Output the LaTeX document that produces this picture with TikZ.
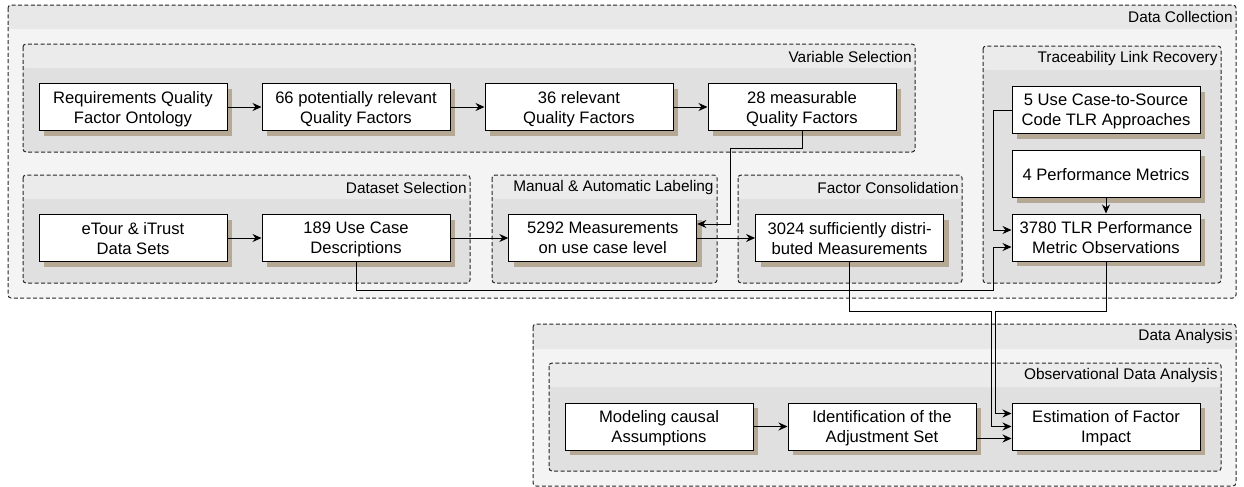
\documentclass[tikz,border=0pt]{standalone}
\usepackage{fontspec}
\setmainfont{Liberation Sans}
\usetikzlibrary{positioning,arrows.meta,shadows}

\definecolor{outerBody}{RGB}{244,244,244}
\definecolor{outerHead}{RGB}{232,232,232}
\definecolor{innerBody}{RGB}{224,224,224}
\definecolor{innerHead}{RGB}{235,235,235}
\definecolor{boxShadow}{RGB}{181,169,150}

\begin{document}
\begin{tikzpicture}[x=0.5pt,y=-0.5pt]
  \newdimen\dist
  \dist=17pt

  \tikzstyle{activity} = [
    % The shape:
    rectangle, minimum height=23.5pt, minimum width=94pt, inner sep=0pt,
    % The border:
    draw=black, line width=0.5pt,
    % The filling:
    fill=white,
    drop shadow={shadow xshift=2.5pt, shadow yshift=-2.5pt, fill=boxShadow, opacity=1},
    % Font:
    align=center, text depth=0pt, font=\fontsize{8.3}{10}\selectfont
  ];
  \tikzstyle{groupFrame} = [
    % The border:
    draw=black!85, line width=0.5pt, dash pattern=on 2pt off 1.2pt,
    rounded corners=1.5pt
  ];
  \tikzstyle{groupLabel} = [
    % Just text!
    anchor=east, inner sep=0pt, font=\fontsize{7.7}{9}\selectfont
  ];
  \tikzstyle{flow} = [
    draw = black,
    line width=0.5pt,
    -{Stealth[length=4.5pt,width=4pt]}
  ];

  \useasboundingbox (0,0) rectangle (1244,487);

  % Data Collection
  \fill [outerBody, rounded corners=1.5pt] (8,5) rectangle (1236,298);
  \fill [outerHead, rounded corners=1.5pt] (8,5) rectangle (1236,29);
  \draw [groupFrame] (8,5) rectangle (1236,298);
  \node [groupLabel] (dataCollectionLabel) at (1233,17) {Data Collection};

  % Variable Selection
  \fill [innerBody, rounded corners=1.5pt] (23,44) rectangle (915,152);
  \fill [innerHead, rounded corners=1.5pt] (23,44) rectangle (915,68);
  \draw [groupFrame] (23,44) rectangle (915,152);
  \node [groupLabel] (variableSelectionLabel) at (912,57) {Variable Selection};

  % Dataset Selection
  \fill [innerBody, rounded corners=1.5pt] (23,175) rectangle (470,283);
  \fill [innerHead, rounded corners=1.5pt] (23,175) rectangle (470,199);
  \draw [groupFrame] (23,175) rectangle (470,283);
  \node [groupLabel] (datasetSelectionLabel) at (467,188) {Dataset Selection};

  % Manual & Automatic Labeling
  \fill [innerBody, rounded corners=1.5pt] (492,175) rectangle (717,283);
  \fill [innerHead, rounded corners=1.5pt] (492,175) rectangle (717,199);
  \draw [groupFrame] (492,175) rectangle (717,283);
  \node [groupLabel] (labelingLabel) at (714,188) {Manual \& Automatic Labeling};

  % Factor Consolidation
  \fill [innerBody, rounded corners=1.5pt] (738,175) rectangle (962,283);
  \fill [innerHead, rounded corners=1.5pt] (738,175) rectangle (962,199);
  \draw [groupFrame] (738,175) rectangle (962,283);
  \node [groupLabel] (consolidationLabel) at (959,188) {Factor Consolidation};

  % Traceability Link Recovery
  \fill [innerBody, rounded corners=1.5pt] (983,46) rectangle (1221,283);
  \fill [innerHead, rounded corners=1.5pt] (983,46) rectangle (1221,70);
  \draw [groupFrame] (983,46) rectangle (1221,283);
  \node [groupLabel] (recoveryLabel) at (1218,59) {Traceability Link Recovery};

  % Data Analysis
  \fill [outerBody, rounded corners=1.5pt] (533,324) rectangle (1236,486);
  \fill [outerHead, rounded corners=1.5pt] (533,324) rectangle (1236,349);
  \draw [groupFrame] (533,324) rectangle (1236,486);
  \node [groupLabel] (dataAnalysisLabel) at (1233,337) {Data Analysis};

  % Observational Data Analysis
  \fill [innerBody, rounded corners=1.5pt] (549,363) rectangle (1221,471);
  \fill [innerHead, rounded corners=1.5pt] (549,363) rectangle (1221,387);
  \draw [groupFrame] (549,363) rectangle (1221,471);
  \node [groupLabel] (observationalLabel) at (1218,376) {Observational Data Analysis};

  \node [activity] (ontology) at (133,107) {Requirements Quality\\Factor Ontology};
  \node [activity, right = \dist of ontology] (qf66) {66 potentially relevant\\Quality Factors};
  \node [activity, right = \dist of qf66] (qf36) {36 relevant\\Quality Factors};
  \node [activity, right = \dist of qf36] (qf28) {28 measurable\\Quality Factors};

  \node [activity] (datasets) at (133,238) {eTour \& iTrust\\Data Sets};
  \node [activity, right = \dist of datasets] (useCases) {189 Use Case\\Descriptions};
  \node [activity, right = 1.7*\dist of useCases] (measurements) {5292 Measurements\\on use case level};
  \node [activity, right = 1.7*\dist of measurements] (consolidated) {3024 sufficiently distri-\\buted Measurements};

  \node [activity] (approaches) at (1106,110) {5 Use Case-to-Source\\Code TLR Approaches};
  \node [activity] (metrics) at (1106,174) {4 Performance Metrics};
  \node [activity] (observations) at (1106,237.5) {3780 TLR Performance\\Metric Observations};

  \node [activity] (modeling) at (659,426.5) {Modeling causal\\Assumptions};
  \node [activity, right = \dist of modeling] (adjustment) {Identification of the\\Adjustment Set};
  \node [activity] (estimation) at (1106,426.5) {Estimation of Factor\\Impact};

  \draw [flow] (ontology) -- (qf66);
  \draw [flow] (qf66) -- (qf36);
  \draw [flow] (qf36) -- (qf28);
  \draw [flow] (qf28.south) -- ++(0,17)
                            -| ([xshift=16.5pt,yshift=7pt]measurements.east)
                            -- ([yshift=7pt]measurements.east);

  \draw [flow] (datasets) -- (useCases);
  \draw [flow] (useCases) -- (measurements);
  \draw [flow] (measurements) -- (consolidated);
  \draw [flow] (useCases.south) -- ++(0,28)
                                -| ([xshift=-9pt,yshift=-4.75pt]observations.west)
                                -- ([yshift=-4.75pt]observations.west);

  \draw [flow] (approaches.west) -| ([xshift=-9pt,yshift=3.75pt]observations.west)
                                 -- ([yshift=3.75pt]observations.west);
  \draw [flow] (metrics) -- (observations);

  \draw [flow] (consolidated.south) -- ++(0,49.5)
                                    -| ([xshift=-10pt]estimation.west)
                                    -- (estimation.west);
  \draw [flow] (observations.south) -- ++(0,50)
                                    -| ([xshift=-8pt,yshift=6.5pt]estimation.west)
                                    -- ([yshift=6.5pt]estimation.west);

  \draw [flow] (modeling) -- (adjustment);
  \draw [flow] ([yshift=-6pt]adjustment.east) -- ([yshift=-6pt]estimation.west);
\end{tikzpicture}
\end{document}
